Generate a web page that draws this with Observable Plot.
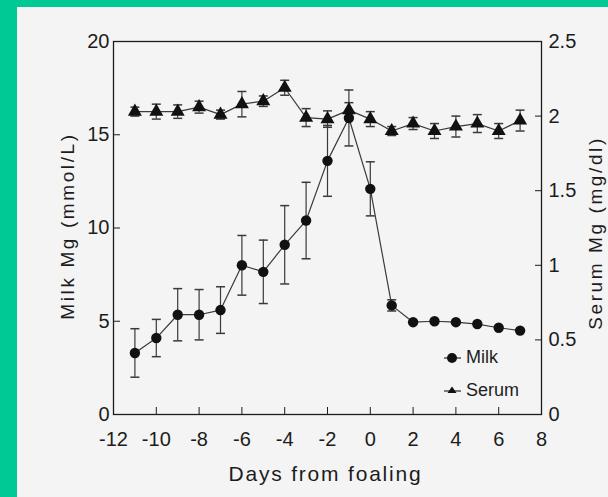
<!DOCTYPE html>
<html><head><meta charset="utf-8">
<script src="https://cdn.jsdelivr.net/npm/d3@7"></script>
<script src="https://cdn.jsdelivr.net/npm/@observablehq/plot@0.6"></script>
<style>
html,body{margin:0;padding:0;background:#00C995;width:608px;height:497px;overflow:hidden;}
#panel{position:absolute;left:17px;top:7px;width:591px;height:490px;background:#f4f4f4;}
#legend{position:absolute;left:442px;top:345px;font-family:"Liberation Sans",Arial,sans-serif;font-size:18px;color:#1e1e1e;}
#legend .row{position:absolute;white-space:nowrap;}
</style></head><body><div id="panel"></div>
<script>
const days = [-11,-10,-9,-8,-7,-6,-5,-4,-3,-2,-1,0,1,2,3,4,5,6,7];
const milk = [3.3,4.1,5.35,5.35,5.6,8.0,7.65,9.1,10.4,13.6,15.9,12.1,5.85,4.95,5.0,4.95,4.85,4.65,4.5];
const milkErr = [1.3,1.0,1.4,1.35,1.25,1.6,1.7,2.1,2.05,1.9,1.5,1.45,0.3,0,0,0,0,0,0];
const serum = [2.03,2.03,2.03,2.06,2.01,2.08,2.1,2.19,1.99,1.98,2.04,1.98,1.9,1.95,1.9,1.93,1.95,1.9,1.97];
const serumErr = [0.03,0.05,0.045,0.04,0.03,0.085,0.035,0.05,0.06,0.055,0.05,0.05,0.03,0.04,0.05,0.07,0.06,0.05,0.07];
const xTicks = [-12,-10,-8,-6,-4,-2,0,2,4,6,8];
const milkTicks = [0,5,10,15,20];
const serumTicks = [0,0.5,1,1.5,2,2.5];
const xTitle = "Days from foaling";
const milkTitle = "Milk Mg (mmol/L)";
const serumTitle = "Serum Mg (mg/dl)";
const legendLabels = ["Milk","Serum"];

const k = 20 / 2.5; // serum (mg/dl) -> left-axis units
const milkRows = days.map((d,i)=>({day:d, v:milk[i], e:milkErr[i]}));
const serumRows = days.map((d,i)=>({day:d, v:serum[i]*k, e:serumErr[i]*k}));
const ink = "#1c1c1c";
const lineInk = "#3a3a3a";
const cap = {draw(ctx,size){const r=Math.sqrt(size/Math.PI);ctx.moveTo(-r,0);ctx.lineTo(r,0);}};

function errMarks(rows){
  const w = rows.filter(d=>d.e>0);
  return [
    Plot.ruleX(w,{x:"day",y1:d=>d.v-d.e,y2:d=>d.v+d.e,stroke:lineInk,strokeWidth:1.2}),
    Plot.dot(w,{x:"day",y:d=>d.v+d.e,symbol:cap,r:4.5,stroke:lineInk,strokeWidth:1.5,fill:"none"}),
    Plot.dot(w,{x:"day",y:d=>d.v-d.e,symbol:cap,r:4.5,stroke:lineInk,strokeWidth:1.5,fill:"none"})
  ];
}

const chart = Plot.plot({
  width:591, height:490,
  marginLeft:96, marginRight:67, marginTop:34, marginBottom:83,
  style:{background:"transparent", fontFamily:"'Liberation Sans', Arial, sans-serif", color:ink},
  x:{domain:[-12,8], nice:false},
  y:{domain:[0,20], nice:false},
  marks:[
    Plot.frame({stroke:ink, strokeWidth:1.3}),
    Plot.axisX({ticks:xTicks, tickFormat:d=>String(d), tickSize:-7, tickPadding:24, fontSize:20, label:null, stroke:ink}),
    Plot.axisY({anchor:"left", ticks:milkTicks, tickFormat:d=>String(d), tickSize:-7, tickPadding:11, fontSize:20, label:null, stroke:ink}),
    Plot.axisY({anchor:"right", ticks:serumTicks.map(v=>v*k), tickFormat:d=>String(d/k), tickSize:-7, tickPadding:14, fontSize:20, label:null, stroke:ink}),
    ...errMarks(serumRows),
    ...errMarks(milkRows),
    Plot.line(serumRows,{x:"day",y:"v",stroke:lineInk,strokeWidth:1.2}),
    Plot.line(milkRows,{x:"day",y:"v",stroke:lineInk,strokeWidth:1.2}),
    Plot.dot(serumRows,{x:"day",y:"v",symbol:"triangle",r:5.2,fill:"#111",stroke:"none"}),
    Plot.dot(milkRows,{x:"day",y:"v",symbol:"circle",r:5.2,fill:"#111",stroke:"none"}),
    Plot.text([xTitle],{text:d=>d,frameAnchor:"bottom",textAnchor:"middle",lineAnchor:"bottom",dy:66,dx:-2,fontSize:21,fill:ink}),
    Plot.text([milkTitle],{text:d=>d,frameAnchor:"left",textAnchor:"middle",lineAnchor:"bottom",rotate:-90,dx:-40,dy:-2,fontSize:19,fill:ink}),
    Plot.text([serumTitle],{text:d=>d,frameAnchor:"right",textAnchor:"middle",lineAnchor:"bottom",rotate:-90,dx:60,dy:5,fontSize:19,fill:ink})
  ]
});
document.getElementById("panel").appendChild(chart);
// scanned-figure lettering is wider than the font
d3.select(chart).selectAll('g[aria-label="text"] text').each(function(){
  const t = this.textContent;
  d3.select(this).attr("letter-spacing", t===xTitle ? "1.8px" : "2.6px");
});

// legend
const lg = document.createElement("div");
lg.id = "legend";
lg.innerHTML = `
<div class="row" style="left:0;top:0">
  <svg width="22" height="20" style="position:absolute;left:0;top:3px"><line x1="2" y1="10" x2="19" y2="10" stroke="${lineInk}" stroke-width="1.3"/><circle cx="10" cy="10" r="5" fill="#111"/></svg>
  <span style="position:absolute;left:24px;top:2px">${legendLabels[0]}</span></div>
<div class="row" style="left:0;top:33px">
  <svg width="22" height="20" style="position:absolute;left:0;top:3px"><line x1="2" y1="10" x2="19" y2="10" stroke="${lineInk}" stroke-width="1.3"/><path d="M10,5.5 L14.5,12 L5.5,12Z" fill="#111"/></svg>
  <span style="position:absolute;left:24px;top:2px">${legendLabels[1]}</span></div>`;
document.body.appendChild(lg);
</script>
</body></html>
